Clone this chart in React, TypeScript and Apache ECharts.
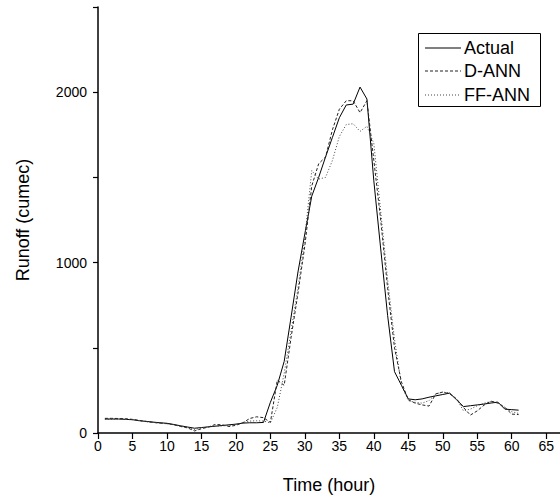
import React, { useEffect, useRef } from "react";
import * as echarts from "echarts";

const hours = Array.from({ length: 61 }, (_, i) => i + 1);

const actual = [
  82, 82, 82, 80, 78, 72, 68, 64, 60, 57,
  50, 42, 35, 28, 32, 36, 40, 44, 48, 52,
  58, 60, 60, 62, 180, 280, 420, 680, 945, 1170,
  1390, 1500, 1620, 1735, 1850, 1925, 1930, 2030, 1960, 1480,
  1080, 690, 360, 280, 200, 195, 200, 210, 218, 226,
  234, 195, 155, 160, 165, 170, 176, 181, 140, 137,
  134,
];

const dAnn = [
  86, 86, 85, 84, 80, 74, 68, 62, 58, 55,
  48, 38, 30, 12, 25, 35, 50, 48, 38, 45,
  60, 85, 95, 90, 62, 310, 280, 560, 820, 1100,
  1450, 1580, 1620, 1780, 1900, 1950, 1950, 1880, 1950, 1600,
  1250, 850, 500, 300, 195, 175, 165, 158, 230, 240,
  230, 200, 150, 105, 130, 164, 187, 175, 150, 111,
  108,
];

const ffAnn = [
  80, 80, 82, 80, 78, 72, 66, 62, 58, 54,
  48, 40, 32, 20, 30, 36, 40, 42, 44, 50,
  60, 70, 72, 70, 60, 150, 350, 600, 850, 1150,
  1540, 1490, 1500, 1600, 1740, 1810, 1815, 1770, 1800, 1700,
  1300, 900, 550, 280, 190, 180, 175, 190, 230, 240,
  235, 200, 130, 140, 160, 175, 185, 180, 150, 125,
  115,
];

const seriesNames = ["Actual", "D-ANN", "FF-ANN"];
const seriesDash: (number[] | null)[] = [null, [3, 2], [1, 2]];
const seriesColor = ["#000", "#222", "#444"];

const FONT = "Liberation Sans, Arial, sans-serif";

export default function App() {
  const ref = useRef<HTMLDivElement>(null);
  useEffect(() => {
    if (!ref.current) return;
    const chart = echarts.init(ref.current, null, { renderer: "svg" });
    const mk = (arr: number[]) => hours.map((h, i) => [h, arr[i]]);
    const legendRowsY = [48, 71, 95];
    const legendGraphics: any[] = [
      {
        type: "rect",
        shape: { x: 418.5, y: 33.5, width: 122, height: 73 },
        style: { fill: "#fff", stroke: "#000", lineWidth: 1 },
        z: 100,
      },
    ];
    seriesNames.forEach((name, i) => {
      legendGraphics.push({
        type: "line",
        shape: { x1: 425, y1: legendRowsY[i], x2: 461, y2: legendRowsY[i] },
        style: {
          stroke: seriesColor[i],
          lineWidth: 1,
          lineDash: seriesDash[i] || undefined,
        },
        z: 101,
      });
      legendGraphics.push({
        type: "text",
        x: 464,
        y: legendRowsY[i],
        style: {
          text: name,
          fontFamily: FONT,
          fontSize: 18,
          fill: "#000",
          verticalAlign: "middle",
          align: "left",
        },
        z: 101,
      });
    });
    chart.setOption({
      animation: false,
      backgroundColor: "#fff",
      grid: { left: 98, right: 0, top: 7, bottom: 64 },
      graphic: legendGraphics,
      xAxis: {
        type: "value",
        min: 0,
        max: 67,
        interval: 5,
        name: "Time (hour)",
        nameLocation: "middle",
        nameGap: 43,
        nameTextStyle: { fontFamily: FONT, fontSize: 18, color: "#000" },
        splitLine: { show: false },
        axisLine: { onZero: false, lineStyle: { color: "#000", width: 1.5 } },
        axisTick: { length: 6, lineStyle: { color: "#000", width: 1.2 } },
        axisLabel: {
          fontFamily: FONT,
          fontSize: 14,
          color: "#000",
          margin: 6,
          showMaxLabel: false,
          formatter: (v: number) => (v % 5 === 0 ? String(v) : ""),
        },
      },
      yAxis: {
        type: "value",
        min: 0,
        max: 2500,
        interval: 500,
        name: "Runoff (cumec)",
        nameLocation: "middle",
        nameGap: 66,
        nameTextStyle: { fontFamily: FONT, fontSize: 18, color: "#000" },
        splitLine: { show: false },
        axisLine: { lineStyle: { color: "#000", width: 1.5 } },
        axisTick: { length: 5, lineStyle: { color: "#000", width: 1.2 } },
        axisLabel: {
          fontFamily: FONT,
          fontSize: 14,
          color: "#000",
          margin: 11,
          formatter: (v: number) => (v % 1000 === 0 && v < 2500 ? String(v) : ""),
        },
      },
      series: [
        { arr: actual },
        { arr: dAnn },
        { arr: ffAnn },
      ].map((s, i) => ({
        name: seriesNames[i],
        type: "line",
        data: mk(s.arr),
        showSymbol: false,
        symbol: "none",
        lineStyle: {
          color: seriesColor[i],
          width: 1,
          type: seriesDash[i] || "solid",
        },
        itemStyle: { color: seriesColor[i] },
      })),
    });
    return () => chart.dispose();
  }, []);
  return (
    <div
      ref={ref}
      style={{ position: "absolute", left: 0, top: 0, width: 560, height: 499 }}
    />
  );
}
